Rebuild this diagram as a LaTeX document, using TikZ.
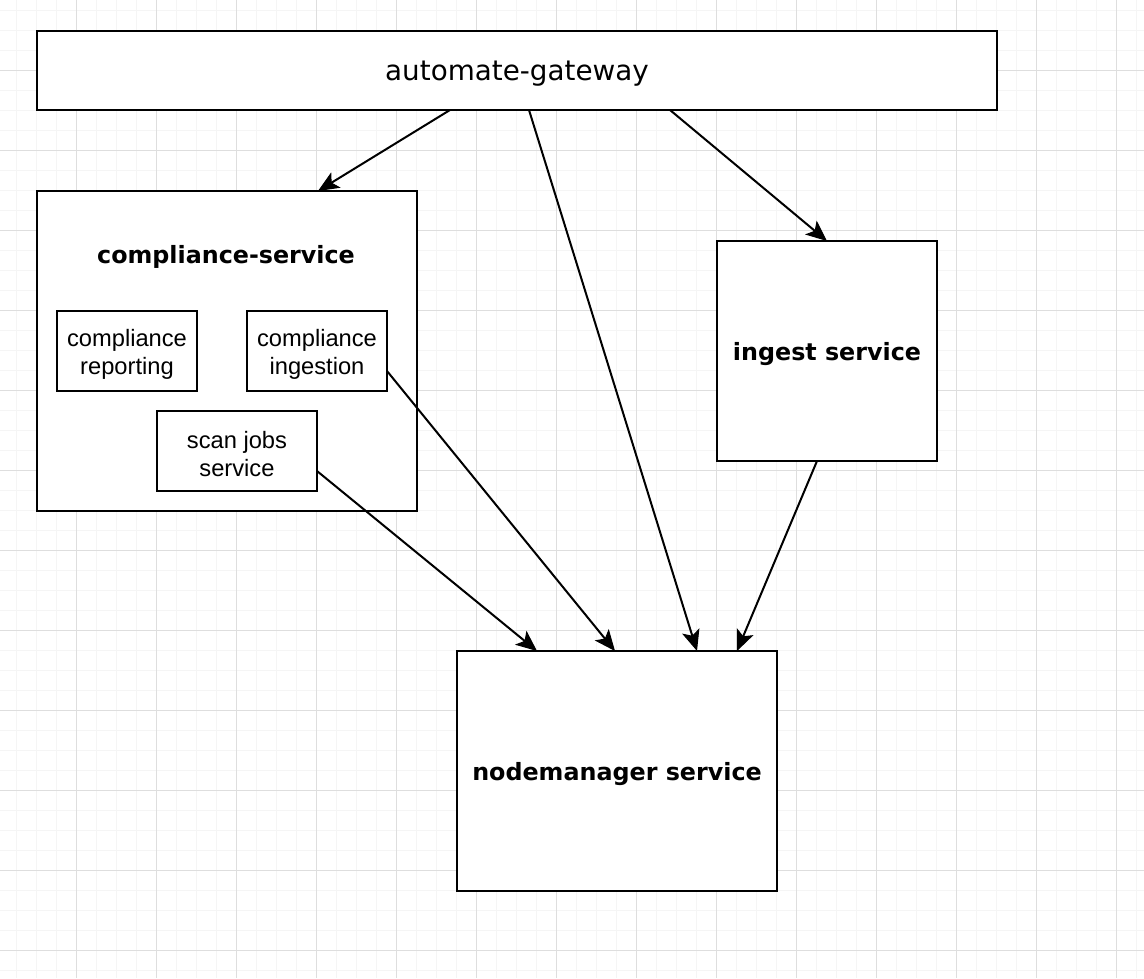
\documentclass[tikz,border=0pt]{standalone}
\usepackage{fontspec}
\usetikzlibrary{arrows.meta,calc}
\newfontfamily\dvsans{DejaVu Sans}
\newfontfamily\libsans{Liberation Sans}
\definecolor{minorgrid}{RGB}{245,245,245}
\definecolor{majorgrid}{RGB}{222,222,222}
\tikzset{
  minorline/.style={draw=minorgrid,line width=1pt},
  majorline/.style={draw=majorgrid,line width=1pt},
  box/.style={draw=black,fill=white,line width=2pt,rectangle,inner sep=0pt,outer sep=0pt},
  titlefont/.style={font=\dvsans\fontsize{27.8}{33}\selectfont},
  boldfont/.style={font=\dvsans\bfseries\fontsize{23.8}{28}\selectfont},
  smallfont/.style={font=\libsans\fontsize{23.7}{28}\selectfont,align=center},
  arr/.style={draw=black,line width=2pt,-{Stealth[length=21pt,width=18pt,inset=5pt,line width=1pt]}},
  down/.style={yshift=-3.5pt},
}
\begin{document}
\begin{tikzpicture}[x=1pt,y=-1pt]
\useasboundingbox (0,0) rectangle (1144,978);
\fill[white] (0,0) rectangle (1144,978);
% grid
\foreach \x in {16,36,...,1136} \draw[minorline] (\x,0) -- (\x,978);
\foreach \y in {10,30,...,970} \draw[minorline] (0,\y) -- (1144,\y);
\foreach \x in {76,156,...,1116} \draw[majorline] (\x,0) -- (\x,978);
\foreach \y in {70,150,...,950} \draw[majorline] (0,\y) -- (1144,\y);
% nodes
\node[box,minimum width=960,minimum height=79,
  label={[titlefont,down]center:automate-gateway}] (gw) at (517,70.5) {};
\node[box,minimum width=380,minimum height=320] (cs) at (227,351) {};
\node[boldfont,down] (cstitle) at (226,253) {compliance-service};
\node[box,minimum width=140,minimum height=80,
  label={[smallfont,down]center:compliance\\reporting}] (cr) at (127,351) {};
\node[box,minimum width=140,minimum height=80,
  label={[smallfont,down]center:compliance\\ingestion}] (ci) at (317,351) {};
\node[box,minimum width=160,minimum height=80,
  label={[smallfont,down]center:scan jobs\\service}] (sj) at (237,451) {};
\node[box,minimum width=220,minimum height=220,
  label={[boldfont,down]center:ingest service}] (ing) at (827,351) {};
\node[box,minimum width=320,minimum height=240,
  label={[boldfont,down]center:nodemanager service}] (nm) at (617,771) {};
% connectors
\draw[arr] ([xshift=413]gw.south west) -- ([xshift=281]cs.north west);
\draw[arr] ([xshift=492]gw.south west) -- ([xshift=240]nm.north west);
\draw[arr] ([xshift=633]gw.south west) -- ([xshift=110]ing.north west);
\draw[arr] ([yshift=-20]ci.east) -- ([xshift=158]nm.north west);
\draw[arr] ([yshift=-20]sj.east) -- ([xshift=80]nm.north west);
\draw[arr] ([xshift=100]ing.south west) -- ([xshift=280]nm.north west);
\end{tikzpicture}
\end{document}
